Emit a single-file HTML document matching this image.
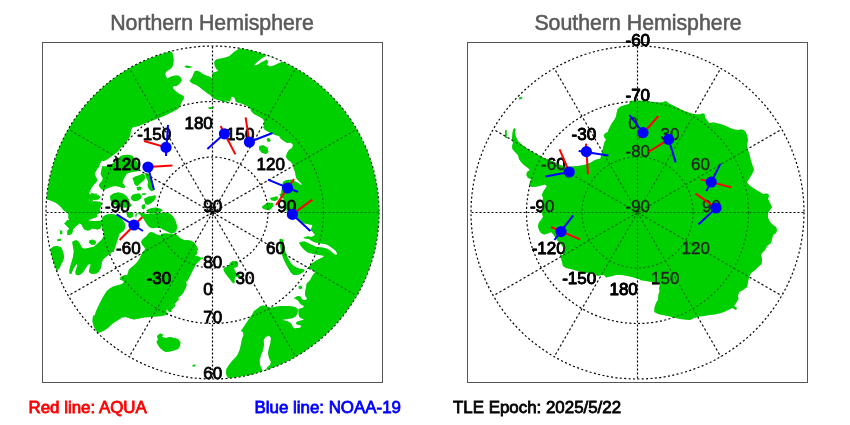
<!DOCTYPE html>
<html><head><meta charset="utf-8"><title>Satellite crossings</title>
<style>
html,body{margin:0;padding:0;background:#fff;-webkit-font-smoothing:antialiased;}
text{opacity:.995;}
svg{display:block;font-family:"Liberation Sans",sans-serif;}
.lb text{font-size:17px;fill:#000;stroke:#000;stroke-width:0.85px;stroke-linejoin:round;}
.ls text{fill:#222;stroke:#222;stroke-width:0.35px;font-weight:normal;}
.t{font-size:21.3px;fill:#5a5a5a;stroke:#5a5a5a;stroke-width:0.55px;}
.b{font-size:16.9px;stroke-width:0.8px;}
</style></head><body>
<svg width="850" height="425" viewBox="0 0 850 425">
<rect width="850" height="425" fill="#fff"/>
<defs>
<clipPath id="cn"><circle cx="212.5" cy="212.5" r="166.5"/></clipPath>
<clipPath id="cs"><circle cx="637.5" cy="212.5" r="166.5"/></clipPath>
<path id="pn" fill-rule="evenodd" d="M150 30 L165 45 L171.2 51.4 L172.6 53.5 L173.3 57 L173.7 59.8 L173.3 63.4 L172.6 66.2 L171.2 68.3 L169.1 69.7 L166.9 71.1 L165.2 73.2 L165.8 76.1 L167.2 78.6 L169.8 77.2 L172.6 76.1 L176.1 75.4 L178.9 75.8 L180.8 77.8 L181.8 80.3 L180.4 82.8 L178.2 84.8 L176.1 86.2 L174 85.9 L172.6 87.4 L174 89.5 L176.1 91.6 L178.9 93.7 L181.8 95.1 L183.9 96.5 L183.6 99.4 L181.8 101.5 L180.4 105 L180 106 L178 109 L172 112 L166 115 L160 117.6 L154 120 L148 122 L142 124.4 L138.8 125.9 L135.3 126.8 L132.4 127.6 L131.2 130 L130.6 132.9 L130 135.9 L128.8 138.2 L127.1 140.6 L125.9 142.9 L124.1 144.7 L122.4 146.5 L120.6 147.6 L119.4 150 L117.6 151.8 L115.3 153.5 L112.9 155.3 L110.6 157.1 L108.2 158.8 L105.9 160 L103.5 161.2 L101.8 160.6 L100.6 162.4 L99.4 165.3 L98.8 168.2 L98.2 166.8 L96.5 170.3 L94.7 173.2 L95.1 175.6 L96.5 177.9 L97.6 180.3 L95.9 182.6 L93.5 185 L91.8 187.4 L90.6 189.7 L90 192.1 L91.8 193.2 L94.7 193.8 L97.6 194.4 L98.8 196.2 L97.6 197.9 L94.7 198.8 L91.8 198.5 L89.4 199.1 L90 200.9 L92.9 201.5 L90.2 190 L89.1 193.5 L91.4 195.3 L94.4 194.1 L96.7 193.5 L98.5 195.3 L99.6 197.1 L97.3 198.2 L93.8 198.5 L90.2 198.8 L89.1 200.6 L91.4 201.8 L94.4 202.4 L97.3 202.9 L99.6 201.8 L101.4 202.9 L100.8 206.5 L99.6 210 L100.8 211.8 L99.6 212.9 L97.9 214.1 L96.1 215.3 L92.6 216.5 L89.1 217.1 L86.7 218.2 L87.3 220 L89.1 221.2 L91.4 222.9 L92.6 225.3 L92 228.2 L90.2 230 L87.3 230.6 L84.4 229.4 L82.6 227.1 L82 224.7 L81.4 222.4 L79.6 220.6 L76.1 219.4 L72 218.8 L69.6 217.6 L68.5 215.3 L67.9 212.9 L65.5 211.8 L63.2 210 L61.4 207.6 L59.1 205.3 L56.1 202.9 L52.6 201.2 L49.1 200 L46.7 199.4 L30 195 L20 100 L60 30ZM250 35 L240.4 47.8 L234.7 51.4 L229.1 56.3 L225.5 57.4 L221.3 58.4 L217.8 59.1 L215.2 60.2 L214.2 62.6 L214.9 66.2 L216.4 69 L218.5 70.7 L216.4 71.8 L213.5 72.5 L212.1 73.9 L212.1 78.9 L210.7 77.2 L208.6 76.3 L205.8 75.4 L202.9 73.9 L200.1 72.1 L197.3 70.7 L194.9 71.1 L193.8 73.2 L192.4 76.8 L190.9 78.9 L189.5 81.1 L192.4 83.4 L195.9 84.8 L198.7 86.6 L201.5 88.8 L204.4 90.9 L207.2 93 L210 95.1 L212.1 97 L213.5 98.4 L217.8 100.1 L223.4 101.5 L230.1 102.9 L224 100 L230 101.6 L231.6 96.4 L234.4 97.6 L236 102 L240 103 L245 105 L250 107.6 L251 111 L254 114 L259 116.4 L263 119 L264.4 122 L263.6 127 L263 127 L265 130 L269 132 L272 133.4 L275 135 L279 136 L281 139 L284 141 L287 143 L291 142.6 L293 145 L292 148 L289 150 L287 153 L286 157 L288 160 L291 162 L293 165 L293.5 165 L293.5 168.5 L294.7 170.9 L295.3 173.8 L295.9 176.8 L296.5 178.5 L298.8 180.9 L301.2 183.2 L301.8 185 L300 184.4 L297.6 182.6 L295.3 181.5 L293.5 180.3 L291.8 179.7 L288.8 179.7 L285.9 180.3 L283.5 181.5 L282.4 183.8 L281.8 188.5 L281.2 193.2 L279.4 194.4 L280.6 196.8 L283.5 199.1 L285.3 203.8 L286.5 209.7 L287.1 214.4 L292 214.4 L296 218 L302 223 L312.4 225 L311.6 227.8 L310.2 230.6 L312.4 231.4 L313.8 233.5 L315.2 234.9 L313.1 236.3 L310.9 237 L308.1 236.3 L305.3 237 L303.2 237.7 L305.3 238.4 L308.8 239.1 L311.6 240.8 L314.5 242.2 L318 243.1 L321.5 243.6 L325.1 244.1 L327.9 245 L330.7 246.9 L333.5 249 L335.7 251.1 L337.1 253.2 L336.4 254.9 L334.7 254.6 L332.5 252.7 L330.4 250.7 L327.6 248.9 L324.8 247.9 L322 247.4 L319.4 247.3 L317.3 247 L315.5 246.7 L312.6 245.3 L309.8 243.9 L307 242.5 L304.6 241.5 L301.8 241.7 L299.4 242.6 L299.6 244.1 L301.1 246.2 L302.8 248.3 L304.6 250.1 L306.7 251.8 L308.8 253 L310.9 253.2 L313.8 253.9 L316.6 254.6 L319.4 255.1 L322.2 255.4 L324.4 255.8 L322.9 257.2 L320.8 258.2 L318.7 259.2 L316.6 260.3 L314.5 261.7 L312.4 263.1 L310.9 264.5 L309.5 266.2 L308.1 267.6 L307 268.8 L308.8 269 L311.6 269.5 L313.8 270.5 L315.2 271.9 L313.8 273.7 L312.4 275.8 L311.2 277.9 L310.2 280.1 L308.8 281.5 L307.4 282.9 L307 285 L307.6 282.1 L306.5 284.2 L306 287.4 L305.4 290.6 L304.9 293.8 L305.4 295.9 L306.5 297.5 L307 299 L305.4 300.1 L303.3 300.1 L301.7 299 L301.2 297.5 L300.2 296.4 L298 295.9 L295.9 296.9 L293.8 298.2 L295.9 299 L297.7 300.3 L299.1 302 L300.2 303.8 L301.7 304.9 L303.3 305.4 L303.9 307 L302.3 308 L300.2 308.4 L298.6 309.1 L298.4 311.2 L298.6 313.9 L299.1 316.5 L300.7 317.9 L302.8 318.9 L304.1 320 L301.8 320.3 L299.2 321 L297 321.7 L296 322.8 L296.5 324.3 L298.6 324.9 L300.7 325.2 L301.3 326.5 L300.2 327.7 L297.6 328 L294.9 328.4 L293.3 327.7 L292.3 325.9 L291.2 323.8 L289.6 322.2 L287.5 321.2 L284.9 320.6 L281.7 320.1 L283.8 319.6 L287.5 319 L290.7 318.5 L293.9 317.5 L296 315.9 L297.2 313.8 L297.9 311.1 L297.6 309 L296.5 307.4 L297 308.6 L294.9 307 L291.2 306.2 L286.9 305.9 L282.7 305.9 L278.5 306.2 L274.2 307 L270 307.7 L266 306 L263 305.4 L260 306.6 L257 309 L254 311 L252 315 L249 319 L247 322 L245 325 L243 328 L241 331 L243 332 L243.6 335 L242 339 L241 344 L240 349 L238 354 L236 357 L232 361 L229 365 L226.4 369 L226 374 L228 378 L231 379.4 L232 385 L300 400 L400 300 L400 100 L330 30Z"/>
<path id="pw" d="M264.4 53.6 L266 56 L262 58 L259 60.4 L256 63 L253.6 65.6 L257 65 L262 62 L267 59.6 L268 62 L267 65 L270 66.4 L274 65.6 L278 63.6 L282 62 L285 61.6 L286.4 59.6 L272 53ZM263 372 L260 365 L259.6 360 L261 355 L263 350 L264 345 L263.6 340 L265.6 337 L269 335.4 L271 338 L270.4 343 L269 348 L268 353 L269 358 L271 362 L270 365 L267 367.4 L265.6 371.4Z"/>
<path id="pi" d="M141.8 240.3 L144.1 237.9 L146.5 236.2 L148.2 233.8 L150.6 232.1 L152.9 232.6 L155.3 233.8 L158.2 235 L161.2 235.6 L162.4 233.8 L165.3 233.2 L168.8 233.8 L172.4 234.1 L175.3 234.4 L177.6 235.6 L179.4 237.4 L181.8 239.1 L184.7 240.3 L187.6 239.9 L191.2 240.9 L194.1 242.6 L195.9 245 L197.1 247.4 L198.2 249.7 L196.5 250.9 L197.6 252.6 L196.5 254.4 L194.7 255.6 L197.6 256.2 L200.6 257.4 L202.9 259.1 L204.1 261.5 L202.9 257.1 L201.5 258.5 L198.7 261.4 L195.9 264.2 L194.5 267 L193.1 269.8 L191.7 272.6 L190.2 275.5 L188.8 278.3 L187.4 281.1 L186 281.8 L186.7 284.6 L186 287.5 L184.6 290.3 L183.2 293.1 L180.4 295.9 L178.2 297.4 L178.9 299.5 L176.8 301.6 L174.7 303.7 L175.4 305.8 L173.3 307.9 L171.2 310.1 L171.9 311.5 L169.8 312.2 L167.7 310.8 L166.9 308.6 L166.2 311.5 L167.7 314.3 L167 314.6 L162 316 L156 316.6 L150 317 L144 317.4 L139 318.6 L134 319.4 L130 318.6 L126 317 L122 317.4 L119 319.4 L115 322 L112 324 L109 327 L105 330 L101 332 L98 333 L95.6 330 L93.6 326 L92.4 321 L93 316 L94.9 315 L95.9 311.5 L97.8 307.2 L99.9 303 L102 298.8 L104.1 295.2 L106.2 291.7 L109.1 288.9 L112.6 286.8 L116.8 285.4 L120.4 284.6 L123.2 283.2 L123.9 281.1 L121.8 280.4 L120.8 278.3 L122.5 276.2 L125.3 275.5 L127.4 274.8 L128.1 272.6 L128.8 269.8 L130.9 267.7 L133.8 265.6 L136.6 262.8 L139.4 259.2 L142.2 255 L137.6 261.5 L139.4 258.5 L140.6 256.2 L141.8 253.8 L143.5 251.5 L145.3 249.1 L144.1 246.8 L142.4 245 L141.2 242.6ZM157 336 L160 333.4 L163 334.6 L162 337 L166 338 L170 337 L174 338 L178 339 L180.4 342 L180 346 L178 349 L174 350.6 L170 351.4 L166 352 L163 350.6 L160 348 L158 345 L156.4 342 L158 339.4ZM192.4 365 L195.6 364.6 L195 366.6 L192.8 366.6ZM230.1 262.7 L232.5 261.3 L235.3 261.1 L237.6 261.8 L238.1 264.2 L237.6 266.5 L235.8 267.5 L233.9 267.7 L234.3 269.3 L235.3 271.2 L236.2 273.1 L238.1 274.1 L240 275 L240.5 276.9 L238.6 277.8 L237.2 276.9 L235.8 275.9 L234.8 278.3 L234.6 281.1 L234.3 283.5 L232.9 283 L231 280.7 L229.2 278.3 L227.3 275.9 L225.4 273.6 L224 271.2 L223.5 268.9 L224.9 267.5 L227.3 266.5 L229.2 265.1ZM279.6 239.1 L281.3 238.8 L283 239.8 L283.8 242.6 L284.1 246.2 L284.8 249.7 L285.8 253.2 L287.2 256.8 L289.1 260.3 L291.2 263.4 L293.7 265.9 L296.5 267.6 L299.6 268.8 L302.8 269 L304.6 269.9 L303.9 271.6 L301.8 273 L298.9 274.4 L296.1 275.1 L293.3 274.7 L291.2 273 L289.5 270.2 L287.6 267.1 L285.8 263.8 L284.1 260.3 L282.7 256.8 L281.6 253.2 L280.7 249.7 L280.2 246.2 L279.6 242.6ZM298.6 286.6 L300.7 285.8 L302.3 286.9 L301.7 288.7 L300.2 289.3 L298.8 288.3ZM270 197.9 L277.1 196.2 L278.2 199.1 L275.3 200.9 L271.2 200.3ZM261.8 206.8 L267.6 202.6 L273.5 203.2 L272.9 206.8 L269.4 210.3 L263.5 209.1ZM259.3 146.1 L263.4 145.3 L267.5 147.8 L268.4 151.9 L265.9 154 L261.8 152.7 L259 149.4ZM266.7 138.7 L269.2 137.9 L270.8 140.4 L269.2 142 L267.2 141.2ZM208.2 107.4 L214 106.6 L213.2 108.6 L209.1 109.1ZM184.6 66.2 L187 65.5 L189.5 66.2 L191.6 66.5 L190.9 67.6 L188.1 67.9 L185.3 67.3ZM120 156.5 L122.9 155.3 L126.5 154.7 L130.6 154.9 L132.9 156.5 L134.7 158.8 L137.1 161.8 L139.4 165.3 L140 170 L137.1 171.2 L133.5 171.8 L130 172.4 L127.1 173.5 L125.3 175.9 L124.1 178.2 L122.9 180.6 L122.4 182.9 L124.1 184.7 L125.3 186.5 L124.1 188.2 L121.2 187.6 L118.2 186.5 L115.3 185.9 L112.4 186.5 L109.4 187.6 L106.5 188.8 L104.1 190 L101.8 189.4 L100 187.6 L98.8 185.3 L100 182.9 L101.8 181.2 L102.9 178.8 L101.8 176.5 L100.6 174.1 L101.2 171.2 L101.8 168.2 L102.4 165.9 L104.7 166.5 L107.6 165.9 L110.6 164.7 L113.5 162.9 L116.5 160.6 L118.8 158.2ZM132.4 178.2 L135.3 176.5 L139.4 175.3 L142.9 173.5 L144.7 175.3 L145.3 178.2 L143.5 180.6 L141.2 182.4 L139.4 184.1 L137.6 185.9 L135.3 185.3 L134.1 182.9 L133.5 180.6ZM144.7 172.9 L148.2 173.5 L150 177.1 L151.2 181.8 L152.4 186.5 L153.5 190.6 L151.2 191.2 L148.8 188.8 L147.6 185.3 L148.2 181.8 L146.5 178.2ZM136.5 187.6 L139.4 186.5 L141.8 187.6 L140.6 190 L137.6 190.6ZM111.2 195.3 L114.7 192.9 L118.8 192.4 L122.9 193.5 L125.3 195.3 L124.7 198.2 L122.9 200 L112.4 200 L110.6 197.6ZM131.8 195.3 L134.7 194.1 L138.2 194.7 L139.4 196.5 L137.1 198.2 L133.5 198.8ZM141.8 193.5 L146.5 193.3 L145.3 194.7 L142.4 194.9ZM148.8 197.1 L152.4 195.9 L155.3 195.3 L155.9 197.1 L153.5 199.4 L150 200ZM110 195.9 L113.5 193.5 L118.2 192.4 L122.9 193.5 L126.5 195.9 L128.8 199.4 L130 202.9 L131.8 205.3 L130 207.1 L127.6 207.6 L122.9 207.6 L118.2 206.5 L113.5 204.1 L110.6 200.6ZM130.6 197.1 L134.7 194.1 L139.4 193.5 L141.8 195.9 L140.6 198.8 L138.2 200.6 L134.7 201.2 L131.8 200ZM144.1 198.8 L148.8 196.5 L153.5 195.9 L155.9 197.6 L154.1 200.6 L151.2 202.9 L148.2 204.7 L145.3 204.1 L144.7 201.8ZM141.8 205.3 L144.7 204.1 L145.3 207.6 L143.5 209.4 L141.8 208.2ZM146.5 210 L151.2 208.2 L155.9 207.6 L160.6 208.8 L162.9 210.6 L160.6 211.8 L157.1 212.4 L153.5 212.9 L150 213.5 L147.1 212.4ZM160.6 212.9 L165.3 212.4 L170 213.5 L173.5 217.1 L175.9 221.8 L177.1 226.5 L176.5 230.6 L174.1 232.9 L171.2 233.5 L167.6 231.8 L164.1 230 L160.6 228.2 L157.1 227.6 L153.5 228.2 L150 227.6 L147.6 225.3 L145.3 221.8 L143.5 218.8 L141.8 216.5 L139.4 214.1 L137.1 212.9 L135.3 214.7 L135.9 218.2 L137.1 213.5 L140.6 212.4 L146.5 214.1 L153.5 213.5ZM90 194.7 L94.7 194.1 L98.2 195.3 L100.6 197.1 L98.2 199.4 L94.7 200 L91.2 199.4ZM90 201.8 L94.7 201.2 L99.4 201.8 L101.8 204.1 L99.4 206.5 L95.9 207.6 L92.4 208.8 L90 209.4ZM126.5 212.9 L130 211.8 L133.5 212.9 L132.9 216.5 L130 218.2 L127.1 216.5ZM72.9 242.9 L75.3 240.6 L78.2 241.2 L80 244.1 L81.8 247.6 L84.1 248.8 L87.1 248.2 L90.6 247.6 L94.1 246.5 L97.1 244.1 L99.4 241.8 L101.8 239.4 L103.5 236.5 L104.7 233.5 L105.3 230 L118.2 230 L118.8 233.5 L117.6 237.1 L115.9 240 L115.3 242.9 L114.7 246.5 L113.5 250 L111.2 252.9 L108.2 255.3 L105.3 257.6 L102.9 259.4 L101.8 262.4 L101.5 265.3 L100.6 268.8 L98.8 271.8 L96.5 273.5 L93.5 274.1 L90.6 273.5 L88.8 271.8 L89.4 268.8 L90.6 265.3 L90 263.5 L87.6 265.3 L85.3 268.8 L83.5 271.8 L81.2 274.1 L78.2 275.3 L75.9 274.7 L75.3 271.8 L76.5 268.2 L77.6 265.3 L76.5 264.1 L74.1 267.6 L72.4 271.2 L71.2 274.1 L69.4 273.5 L69.4 270 L70.6 265.3 L71.8 261.2 L72.9 257.6 L73.5 253.5 L74.1 250 L72.9 246.5ZM46.5 250 L50.6 248.8 L53.5 246.5 L57.1 245.9 L60.6 247.1 L62.4 250 L63.5 253.5 L64.1 257.6 L62.9 261.2 L61.2 264.1 L60 267.6 L58.2 269.4 L57.1 272.4 L50 272.4ZM57.1 239.4 L60.6 238.8 L61.2 240.6 L57.6 241.2ZM89.4 240.6 L92.9 239.4 L95.3 241.2 L94.1 243.5 L90.6 244.1 L88.8 242.4ZM67.6 230 L72.9 230 L72.4 232.9 L69.4 235.3 L67.1 234.1ZM60 231.2 L62.4 230.6 L61.8 232.9ZM120.6 277.1 L125.3 274.7 L128.2 276.5 L127.6 280 L120 280ZM64.4 223.5 L67.3 220 L70.2 221.2 L74.9 222.4 L79.6 223.5 L77.3 225.3 L74.4 227.6 L71.4 230.6 L69.6 234.1 L67.3 235.3 L67.9 231.8 L69.1 228.2 L66.7 225.9ZM59.1 229.4 L62 231.8 L60.8 232.4ZM64.2 223.3 L67.1 221.4 L69.4 220 L68 217.6 L68.9 215.3 L72.2 214.4 L76 214.8 L78.8 216.2 L82.1 217.2 L85.4 216.7 L88.2 215.8 L92 214.8 L95.8 214.4 L97.6 215.8 L96.2 217.2 L92.9 218.6 L90.1 219.5 L88.2 220.5 L91.1 220.9 L94.8 220.9 L98.6 220.9 L101.4 220.5 L101.9 223.3 L101.4 226.1 L100.5 228.5 L97.6 229.4 L94.8 228.9 L92 228.5 L89.6 229.4 L88.2 230.4 L86.4 229.4 L84.5 228 L82.6 226.1 L81.2 224.2 L79.3 223.3 L77.4 224.7 L75.5 226.6 L73.6 228.9 L71.8 231.3 L69.9 233.6 L68 235.1 L67.1 233.6 L68.5 231.3 L69.9 228.9 L69.4 226.6 L67.5 225.2 L65.2 224.7ZM102.4 217.6 L104.2 215.8 L107.1 214.4 L110.8 213.9 L114.6 214.4 L117.4 215.8 L120.2 217.6 L122.6 220 L124.5 222.8 L125.4 225.6 L124.9 228.5 L123.5 230.8 L121.6 232.2 L119.8 233.2 L118.8 235.1 L118.4 237.4 L117.4 240.2 L116.5 243.1 L115.5 245.9 L114.6 248.7 L113.6 252 L97.2 252 L98.1 249.6 L99.5 246.8 L101.4 244 L102.8 241.2 L103.8 238.4 L104.2 235.5 L103.8 232.7 L102.8 229.9 L102.2 227.1 L101.9 223.3 L101.9 220.5ZM72.2 242.1 L74.1 240.7 L76.5 240.2 L78.4 241.6 L79.3 244 L80.2 246.4 L82.1 247.8 L84.5 248.7 L87.3 249.2 L90.1 249.6 L92.9 249.2 L95.8 248.7 L97.6 249.6 L97.6 252.5 L74.1 252.5 L73.2 247.8ZM89.6 241.2 L92.5 240 L95.3 240.7 L96.2 242.6 L94.8 244.5 L92 244.9 L89.9 243.5ZM60 230.4 L61.9 230.8 L62.4 233.2 L60.9 234.6 L60 234.1Z"/>
<path id="ps" fill-rule="evenodd" d="M630 100.9 L633.8 100.7 L637.5 100.5 L641.3 100.7 L645.1 101.1 L648.8 101.4 L653.5 102 L658.2 102.5 L662 102.5 L664.4 101.4 L666.2 101.2 L667.6 102.4 L669.5 103.8 L673.3 105.6 L677.1 107.5 L681.8 109.9 L686.5 111.8 L691.2 113.5 L695.9 114.2 L699.6 114.4 L702.5 113.5 L704.4 113.8 L705.3 117.9 L707.2 120.2 L708.6 122.6 L710 124 L709 123 L714 122.6 L720 124 L726 126 L730 128 L734 129.4 L738 130 L742 129.4 L745 131 L747 135 L748 140 L747 145 L748 150 L749.6 155 L751 161 L753 167 L754 170 L752 174 L749.6 178 L747 182 L749 185 L753 188 L758 191 L763 194 L767 193.6 L769 195 L768 199 L770 203 L772 207 L770 210 L768 213 L768 218 L770 222 L773 225 L776 227 L777 230 L776 233 L773 235 L772 239 L771 243 L767 246 L765 250 L762 253 L761 255 L762 259 L761.6 264 L758 267 L755 270 L751 273 L749 277 L748 282 L747 287 L743 290 L739 292 L738 296 L738.4 299 L736 303 L734 306 L737 308 L736 310 L732.4 308 L729 309.4 L724 312 L719 313.4 L714 314.6 L709 315 L704 316 L699 316.6 L694 318 L690 320 L685 319.4 L680 319 L676 318 L672 317 L668 316 L663 315 L658 314 L654.4 312 L654.4 308 L656 303 L658 300 L658.4 295 L659.6 291 L659 288 L660 285 L659 282.6 L652 282 L646 281 L640 280 L640 279.4 L634 277.4 L628 276 L622 275 L616 275 L610 276.6 L606 277.4 L604 275 L601 275 L598 276 L594 274 L588 273 L582 272 L576 270.6 L571 269 L566 268 L563 266 L562 262 L561 258 L560 255 L563 255 L564 251 L563 247 L560 243 L557 240 L555 237 L553 234 L551 232 L548 233.6 L544 234.4 L541 233 L539 230 L538 226 L539 222.4 L541 220 L543 217 L542 213 L541.6 210 L542 206 L542.4 202 L543 198 L542 195 L543 192 L545 189 L547 186 L545 184.4 L541 185.6 L537 186.4 L532 187 L529 185 L530 182 L531 179 L528 178 L526.4 175 L527 172 L530 170 L528 168 L524 165 L521 162 L519 159 L518 155 L515 152 L512.4 149 L512 146 L513 143 L512 139 L512.4 134 L513 130 L514.4 128 L515.6 129.4 L515 133 L516 137 L518 141 L521 144 L526 148 L532 152 L538 155 L544 158 L550 160 L558 164 L566 167 L572 166.6 L578 166 L584 165 L590 163 L595 160 L600.4 158.4 L601.2 155.1 L602 151.8 L602.8 148.5 L603.7 145.2 L604.5 141.9 L606.1 139.4 L604.5 137.8 L603.7 135.3 L605.3 133.2 L607.8 132 L608.6 129.5 L610.2 126.2 L611.9 122.9 L614.4 119.7 L616 116.4 L616.8 112.2 L617.7 108.9 L620.1 106.8 L624.3 105.2 L629.2 104ZM519 97.4 L522.4 97 L521.6 99 L519.2 99.4ZM505 130 L506.6 130 L506.8 138 L505.2 138Z"/>
<mask id="mn" maskUnits="userSpaceOnUse" x="40" y="40" width="345" height="345"><g clip-path="url(#cn)"><use href="#pn" fill="#fff"/><use href="#pw" fill="#000"/><use href="#pi" fill="#fff"/></g></mask>
<mask id="ms" maskUnits="userSpaceOnUse" x="460" y="30" width="360" height="360"><rect x="460" y="30" width="360" height="360" fill="#fff"/><g clip-path="url(#cs)"><use href="#ps" fill="#000"/></g></mask>
</defs>
<g clip-path="url(#cn)"><use href="#pn" fill="#00d000"/><use href="#pw" fill="#fff"/><use href="#pi" fill="#00d000"/></g>
<g clip-path="url(#cs)"><use href="#ps" fill="#00d000"/></g>
<g fill="none" stroke="#000" stroke-width="1.2"><circle cx="212.5" cy="212.5" r="166.50" stroke-dasharray="2 2.4"/><circle cx="212.5" cy="212.5" r="111.00" stroke-dasharray="2 2.4"/><circle cx="212.5" cy="212.5" r="55.50" stroke-dasharray="2 2.4"/><circle cx="212.5" cy="212.5" r="2.8" stroke-dasharray="1.5 1.5"/><line x1="212.5" y1="212.5" x2="212.50" y2="379.00" stroke-dasharray="2.00 2.00"/><line x1="212.5" y1="212.5" x2="295.75" y2="356.69" stroke-dasharray="2.31 2.31"/><line x1="212.5" y1="212.5" x2="356.69" y2="295.75" stroke-dasharray="2.31 2.31"/><line x1="212.5" y1="212.5" x2="379.00" y2="212.50" stroke-dasharray="2.00 2.00"/><line x1="212.5" y1="212.5" x2="356.69" y2="129.25" stroke-dasharray="2.31 2.31"/><line x1="212.5" y1="212.5" x2="295.75" y2="68.31" stroke-dasharray="2.31 2.31"/><line x1="212.5" y1="212.5" x2="212.50" y2="46.00" stroke-dasharray="2.00 2.00"/><line x1="212.5" y1="212.5" x2="129.25" y2="68.31" stroke-dasharray="2.31 2.31"/><line x1="212.5" y1="212.5" x2="68.31" y2="129.25" stroke-dasharray="2.31 2.31"/><line x1="212.5" y1="212.5" x2="46.00" y2="212.50" stroke-dasharray="2.00 2.00"/><line x1="212.5" y1="212.5" x2="68.31" y2="295.75" stroke-dasharray="2.31 2.31"/><line x1="212.5" y1="212.5" x2="129.25" y2="356.69" stroke-dasharray="2.31 2.31"/></g>
<g fill="none" stroke="#000" stroke-width="1.2"><circle cx="637.5" cy="212.5" r="166.50" stroke-dasharray="2 2.4"/><circle cx="637.5" cy="212.5" r="111.00" stroke-dasharray="2 2.4"/><circle cx="637.5" cy="212.5" r="55.50" stroke-dasharray="2 2.4"/><circle cx="637.5" cy="212.5" r="2.8" stroke-dasharray="1.5 1.5"/><line x1="637.5" y1="212.5" x2="637.50" y2="379.00" stroke-dasharray="2.00 2.00"/><line x1="637.5" y1="212.5" x2="720.75" y2="356.69" stroke-dasharray="2.31 2.31"/><line x1="637.5" y1="212.5" x2="781.69" y2="295.75" stroke-dasharray="2.31 2.31"/><line x1="637.5" y1="212.5" x2="804.00" y2="212.50" stroke-dasharray="2.00 2.00"/><line x1="637.5" y1="212.5" x2="781.69" y2="129.25" stroke-dasharray="2.31 2.31"/><line x1="637.5" y1="212.5" x2="720.75" y2="68.31" stroke-dasharray="2.31 2.31"/><line x1="637.5" y1="212.5" x2="637.50" y2="46.00" stroke-dasharray="2.00 2.00"/><line x1="637.5" y1="212.5" x2="554.25" y2="68.31" stroke-dasharray="2.31 2.31"/><line x1="637.5" y1="212.5" x2="493.31" y2="129.25" stroke-dasharray="2.31 2.31"/><line x1="637.5" y1="212.5" x2="471.00" y2="212.50" stroke-dasharray="2.00 2.00"/><line x1="637.5" y1="212.5" x2="493.31" y2="295.75" stroke-dasharray="2.31 2.31"/><line x1="637.5" y1="212.5" x2="554.25" y2="356.69" stroke-dasharray="2.31 2.31"/></g>
<rect x="40" y="40" width="345" height="345" fill="#00d000" opacity="0.55" mask="url(#mn)"/>
<g clip-path="url(#cs)" opacity="0.55"><use href="#ps" fill="#00d000"/></g>
<rect x="42.5" y="42.5" width="340" height="340" fill="none" stroke="#555" stroke-width="1"/>
<rect x="467.5" y="42.5" width="340" height="340" fill="none" stroke="#555" stroke-width="1"/>
<g class="lb"><text x="171.2" y="139.9" text-anchor="end">-150</text><text x="140.7" y="170.4" text-anchor="end">-120</text><text x="129.6" y="212.0" text-anchor="end">-90</text><text x="140.7" y="253.6" text-anchor="end">-60</text><text x="171.2" y="284.1" text-anchor="end">-30</text><text x="212.8" y="295.2" text-anchor="end">0</text><text x="254.4" y="284.1" text-anchor="end">30</text><text x="284.9" y="253.6" text-anchor="end">60</text><text x="296.1" y="212.0" text-anchor="end">90</text><text x="284.9" y="170.4" text-anchor="end">120</text><text x="254.4" y="139.9" text-anchor="end">150</text><text x="212.8" y="128.8" text-anchor="end">180</text><text x="212.8" y="212.0" text-anchor="middle">90</text><text x="212.8" y="267.5" text-anchor="middle">80</text><text x="212.8" y="323.0" text-anchor="middle">70</text><text x="212.8" y="378.5" text-anchor="middle">60</text></g>
<g class="lb ls"><text x="596.2" y="284.1" text-anchor="end">-150</text><text x="565.7" y="253.6" text-anchor="end">-120</text><text x="554.5" y="212.0" text-anchor="end">-90</text><text x="565.7" y="170.4" text-anchor="end">-60</text><text x="596.2" y="139.9" text-anchor="end">-30</text><text x="637.8" y="128.8" text-anchor="end">0</text><text x="679.4" y="139.9" text-anchor="end">30</text><text x="709.9" y="170.4" text-anchor="end">60</text><text x="721.0" y="212.0" text-anchor="end">90</text><text x="709.9" y="253.6" text-anchor="end">120</text><text x="679.4" y="284.1" text-anchor="end">150</text><text x="637.8" y="295.2" text-anchor="end">180</text><text x="637.8" y="212.0" text-anchor="middle">-90</text><text x="637.8" y="156.5" text-anchor="middle">-80</text><text x="637.8" y="101.0" text-anchor="middle">-70</text><text x="637.8" y="45.5" text-anchor="middle">-60</text></g>
<g mask="url(#ms)"><g class="lb"><text x="596.2" y="284.1" text-anchor="end">-150</text><text x="565.7" y="253.6" text-anchor="end">-120</text><text x="554.5" y="212.0" text-anchor="end">-90</text><text x="565.7" y="170.4" text-anchor="end">-60</text><text x="596.2" y="139.9" text-anchor="end">-30</text><text x="637.8" y="128.8" text-anchor="end">0</text><text x="679.4" y="139.9" text-anchor="end">30</text><text x="709.9" y="170.4" text-anchor="end">60</text><text x="721.0" y="212.0" text-anchor="end">90</text><text x="709.9" y="253.6" text-anchor="end">120</text><text x="679.4" y="284.1" text-anchor="end">150</text><text x="637.8" y="295.2" text-anchor="end">180</text><text x="637.8" y="212.0" text-anchor="middle">-90</text><text x="637.8" y="156.5" text-anchor="middle">-80</text><text x="637.8" y="101.0" text-anchor="middle">-70</text><text x="637.8" y="45.5" text-anchor="middle">-60</text></g></g>
<line x1="144" y1="141" x2="166" y2="147.4" stroke="#f00" stroke-width="2"/><line x1="168" y1="125" x2="166" y2="156" stroke="#00f" stroke-width="2"/><line x1="148" y1="167" x2="172.4" y2="165.6" stroke="#f00" stroke-width="2"/><line x1="148" y1="167" x2="154" y2="190" stroke="#00f" stroke-width="2"/><line x1="220.6" y1="126" x2="235.4" y2="154.4" stroke="#f00" stroke-width="2"/><line x1="224.4" y1="133.8" x2="207.4" y2="149.1" stroke="#00f" stroke-width="2"/><line x1="249.4" y1="142" x2="245.6" y2="117.3" stroke="#f00" stroke-width="2"/><line x1="249.4" y1="142" x2="272.5" y2="133" stroke="#00f" stroke-width="2"/><line x1="294" y1="179" x2="276" y2="205" stroke="#f00" stroke-width="2"/><line x1="268" y1="179.6" x2="298" y2="192" stroke="#00f" stroke-width="2"/><line x1="292.4" y1="214.4" x2="312.4" y2="199.6" stroke="#f00" stroke-width="2"/><line x1="292.4" y1="214.4" x2="310.4" y2="231" stroke="#00f" stroke-width="2"/><line x1="142.4" y1="217" x2="119.6" y2="240" stroke="#f00" stroke-width="2"/><line x1="116.6" y1="214.4" x2="143" y2="231" stroke="#00f" stroke-width="2"/><circle cx="166" cy="147.4" r="5.6" fill="#00f"/><circle cx="148" cy="167" r="5.6" fill="#00f"/><circle cx="224.4" cy="133.8" r="5.6" fill="#00f"/><circle cx="249.4" cy="142" r="5.6" fill="#00f"/><circle cx="287.6" cy="188" r="5.6" fill="#00f"/><circle cx="292.4" cy="214.4" r="5.6" fill="#00f"/><circle cx="134" cy="225" r="5.6" fill="#00f"/>
<line x1="658.4" y1="116" x2="639" y2="138" stroke="#f00" stroke-width="2"/><line x1="629.4" y1="115" x2="643" y2="132.6" stroke="#00f" stroke-width="2"/><line x1="668.6" y1="139.4" x2="648.4" y2="152" stroke="#f00" stroke-width="2"/><line x1="668.6" y1="139.4" x2="675.6" y2="162.4" stroke="#00f" stroke-width="2"/><line x1="586" y1="143.6" x2="588" y2="174.4" stroke="#f00" stroke-width="2"/><line x1="578.6" y1="151" x2="608.4" y2="155.6" stroke="#00f" stroke-width="2"/><line x1="559.6" y1="149.4" x2="569.2" y2="172" stroke="#f00" stroke-width="2"/><line x1="545.6" y1="176.4" x2="569.2" y2="172" stroke="#00f" stroke-width="2"/><line x1="700.6" y1="179.4" x2="731.4" y2="187.4" stroke="#f00" stroke-width="2"/><line x1="720.6" y1="163.6" x2="706.4" y2="191" stroke="#00f" stroke-width="2"/><line x1="695.6" y1="193.6" x2="716" y2="208" stroke="#f00" stroke-width="2"/><line x1="716" y1="208" x2="698.4" y2="224.6" stroke="#00f" stroke-width="2"/><line x1="551" y1="227" x2="580" y2="239.4" stroke="#f00" stroke-width="2"/><line x1="573.2" y1="215.4" x2="554.4" y2="240" stroke="#00f" stroke-width="2"/><circle cx="643" cy="132.6" r="5.6" fill="#00f"/><circle cx="668.6" cy="139.4" r="5.6" fill="#00f"/><circle cx="586.4" cy="151.6" r="5.6" fill="#00f"/><circle cx="569.2" cy="172" r="5.6" fill="#00f"/><circle cx="711.2" cy="182" r="5.6" fill="#00f"/><circle cx="716" cy="208" r="5.6" fill="#00f"/><circle cx="561" cy="231.6" r="5.6" fill="#00f"/>
<text class="t" x="212" y="30" text-anchor="middle">Northern Hemisphere</text>
<text class="t" x="638" y="30" text-anchor="middle">Southern Hemisphere</text>
<text class="b" x="28.5" y="413.3" fill="#f00" stroke="#f00">Red line: AQUA</text>
<text class="b" x="254.5" y="413.3" fill="#00f" stroke="#00f">Blue line: NOAA-19</text>
<text class="b" x="453" y="413.3" fill="#000" stroke="#000">TLE Epoch: 2025/5/22</text>
</svg>
</body></html>
